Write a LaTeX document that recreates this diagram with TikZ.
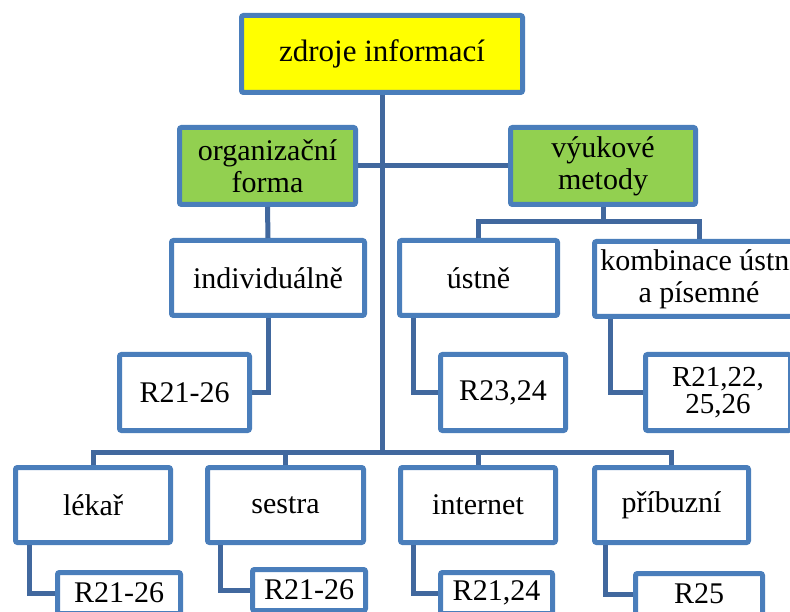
\documentclass[tikz,border=0pt]{standalone}
\usepackage{fontspec}
\setmainfont{Liberation Serif}
\definecolor{boxline}{HTML}{4A7EBB}
\definecolor{linkline}{HTML}{41689E}
\definecolor{topfill}{HTML}{FFFF00}
\definecolor{groupfill}{HTML}{92D050}
\tikzset{
  box/.style={draw=boxline, line width=5pt, rounded corners=2pt, fill=white,
    inner sep=0pt, align=center, font=\fontsize{30}{32}\selectfont},
  topbox/.style={box, fill=topfill, font=\fontsize{31}{33}\selectfont},
  groupbox/.style={box, fill=groupfill},
  link/.style={draw=linkline, line width=5pt},
}
\begin{document}
\begin{tikzpicture}[x=1pt, y=-1pt]
\useasboundingbox (0,0) rectangle (790,612);
\clip (0,0) rectangle (790,612);

\coordinate (bus) at (382,452);

% boxes
\node[topbox, minimum width=281, minimum height=77] (top) at (382,54) {zdroje informací};
\node[groupbox, minimum width=176, minimum height=77] (org) at (267.5,166) {organizační\\forma};
\node[groupbox, minimum width=185, minimum height=77] (vyuk) at (603,166) {výukové\\metody};

\node[box, minimum width=193, minimum height=75] (indiv) at (268,278) {individuálně};
\node[box, minimum width=158, minimum height=75] (ustne) at (478.5,278) {ústně};
\node[box, minimum width=209, minimum height=75] (komb) at (699,279) {kombinace ústní\\a písemné};

\node[box, minimum width=130, minimum height=76] (rindiv) at (184.5,392.5) {R21-26};
\node[box, minimum width=125, minimum height=76] (rustne) at (503,392.5) {R23,24};
\node[box, minimum width=145, minimum height=76, font=\fontsize{29}{27}\selectfont] (rkomb) at (718,392.5) {R21,22,\\25,26};

\node[box, minimum width=155, minimum height=75] (lekar) at (93,505) {lékař};
\node[box, minimum width=156, minimum height=75] (sestra) at (285.5,505) {sestra};
\node[box, minimum width=155, minimum height=75] (inet) at (478,505) {internet};
\node[box, minimum width=154, minimum height=75] (pribuz) at (671.5,505) {příbuzní};

\node[box, minimum width=123, minimum height=41] (rlekar) at (119,593) {R21-26};
\node[box, minimum width=113, minimum height=41] (rsestra) at (309,590) {R21-26};
\node[box, minimum width=112, minimum height=41] (rinet) at (496.5,593) {R21,24};
\node[box, minimum width=127, minimum height=41] (rpribuz) at (699,594) {R25};

% connectors
\draw[link] (top.south) -- (bus);
\draw[link] (org.east) -- (vyuk.west);
\draw[link] (org.south) -- (indiv.north);
\draw[link] (vyuk.south) -- ++(0,15) coordinate (vbus);
\draw[link] (ustne.north) |- (vbus);
\draw[link] (komb.north) |- (vbus);
\draw[link] (indiv.south) |- (rindiv.east);
\draw[link] ([xshift=16.5pt]ustne.south west) |- (rustne.west);
\draw[link] ([xshift=18.5pt]komb.south west) |- (rkomb.west);
\draw[link] (lekar.north) |- (bus);
\draw[link] (sestra.north) |- (bus);
\draw[link] (inet.north) |- (bus);
\draw[link] (pribuz.north) |- (bus);
\draw[link] ([xshift=16.5pt]lekar.south west) |- (rlekar.west);
\draw[link] ([xshift=15.5pt]sestra.south west) |- (rsestra.west);
\draw[link] ([xshift=15.5pt]inet.south west) |- (rinet.west);
\draw[link] ([xshift=13.5pt]pribuz.south west) |- (rpribuz.west);
\end{tikzpicture}
\end{document}
